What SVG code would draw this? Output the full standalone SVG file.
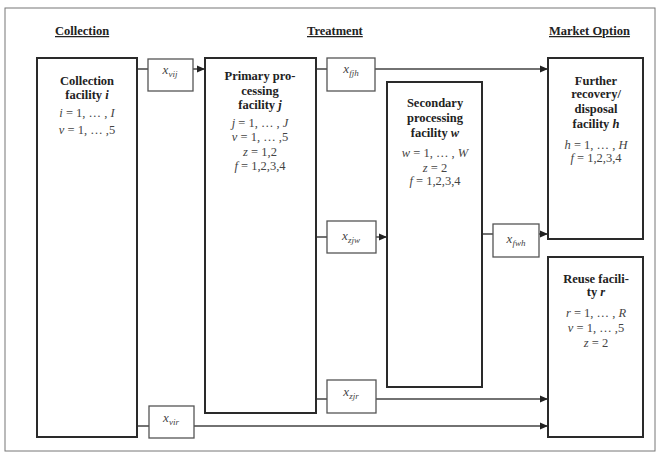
<svg xmlns="http://www.w3.org/2000/svg" width="660" height="455" viewBox="0 0 660 455">
<defs>
<marker id="arr" markerWidth="8" markerHeight="8" refX="7" refY="4" orient="auto" markerUnits="userSpaceOnUse">
<path d="M0,0.5 L8,4 L0,7.5 Z" fill="#222"/>
</marker>
<style>
.frame{fill:#fff;stroke:#777;stroke-width:1}
.node{fill:#fff;stroke:#2a2a2a;stroke-width:2}
.lbl{fill:#fff;stroke:#555;stroke-width:1.3}
.con{fill:none;stroke:#444;stroke-width:1.4}
text{font-family:"Liberation Serif","DejaVu Serif","Times New Roman",serif}
.hd{font-weight:bold;font-size:12.5px;fill:#222;text-decoration:underline}
.t{font-weight:bold;font-size:12.5px;fill:#222;text-anchor:middle}
.m{font-size:12.5px;fill:#444;text-anchor:middle}
.v{font-style:italic}
.x{font-style:italic;font-size:13px;fill:#444;text-anchor:middle}
.s{font-size:9px}
</style>
</defs>
<rect class="frame" x="5" y="8" width="650" height="443"/>
<text class="hd" x="55" y="35">Collection</text>
<text class="hd" x="307" y="35">Treatment</text>
<text class="hd" x="549" y="35">Market Option</text>

<g id="connectors">
<path class="con" d="M137,69 H148 M193,69 H204" marker-end="url(#arr)"/>
<path class="con" d="M316,69 H327 M375,69 H547" marker-end="url(#arr)"/>
<path class="con" d="M316,237 H327 M376,237 H386" marker-end="url(#arr)"/>
<path class="con" d="M482,234 H493 M539,234 H547" marker-end="url(#arr)"/>
<path class="con" d="M316,399 H327 M376,399 H547" marker-end="url(#arr)"/>
<path class="con" d="M137,426 H149 M194,426 H547" marker-end="url(#arr)"/>
</g>

<g id="collection">
<rect class="node" x="37" y="58" width="100" height="379"/>
<text class="t" x="87" y="85">Collection</text>
<text class="t" x="87" y="99">facility <tspan class="v">i</tspan></text>
<text class="m" x="87" y="117"><tspan class="v">i</tspan> = 1, … , <tspan class="v">I</tspan></text>
<text class="m" x="87" y="134"><tspan class="v">v</tspan> = 1, … ,5</text>
</g>

<g id="primary">
<rect class="node" x="205" y="58" width="111" height="355"/>
<text class="t" x="260" y="80">Primary pro-</text>
<text class="t" x="260" y="95">cessing</text>
<text class="t" x="260" y="109">facility <tspan class="v">j</tspan></text>
<text class="m" x="260" y="127"><tspan class="v">j</tspan> = 1, … , <tspan class="v">J</tspan></text>
<text class="m" x="260" y="141"><tspan class="v">v</tspan> = 1, … ,5</text>
<text class="m" x="260" y="156"><tspan class="v">z</tspan> = 1,2</text>
<text class="m" x="260" y="170"><tspan class="v">f</tspan> = 1,2,3,4</text>
</g>

<g id="secondary">
<rect class="node" x="387" y="82" width="95" height="305"/>
<text class="t" x="435" y="107">Secondary</text>
<text class="t" x="435" y="122">processing</text>
<text class="t" x="435" y="137">facility <tspan class="v">w</tspan></text>
<text class="m" x="435" y="157"><tspan class="v">w</tspan> = 1, … , <tspan class="v">W</tspan></text>
<text class="m" x="435" y="172"><tspan class="v">z</tspan> = 2</text>
<text class="m" x="435" y="185"><tspan class="v">f</tspan> = 1,2,3,4</text>
</g>

<g id="further">
<rect class="node" x="548" y="58" width="95" height="181"/>
<text class="t" x="596" y="85">Further</text>
<text class="t" x="596" y="98">recovery/</text>
<text class="t" x="596" y="113">disposal</text>
<text class="t" x="596" y="128">facility <tspan class="v">h</tspan></text>
<text class="m" x="596" y="149"><tspan class="v">h</tspan> = 1, … , <tspan class="v">H</tspan></text>
<text class="m" x="596" y="162"><tspan class="v">f</tspan> = 1,2,3,4</text>
</g>

<g id="reuse">
<rect class="node" x="548" y="257" width="95" height="180"/>
<text class="t" x="596" y="283">Reuse facili-</text>
<text class="t" x="596" y="296">ty <tspan class="v">r</tspan></text>
<text class="m" x="596" y="317"><tspan class="v">r</tspan> = 1, … , <tspan class="v">R</tspan></text>
<text class="m" x="596" y="332"><tspan class="v">v</tspan> = 1, … ,5</text>
<text class="m" x="596" y="347"><tspan class="v">z</tspan> = 2</text>
</g>

<g id="x_vij">
<rect class="lbl" x="148" y="59" width="45" height="32"/>
<text class="x" x="170" y="74">x<tspan class="s" dy="3">vij</tspan></text>
</g>
<g id="x_fjh">
<rect class="lbl" x="327" y="58" width="48" height="33"/>
<text class="x" x="351" y="73">x<tspan class="s" dy="3">fjh</tspan></text>
</g>
<g id="x_zjw">
<rect class="lbl" x="327" y="221" width="49" height="32"/>
<text class="x" x="351" y="240">x<tspan class="s" dy="3">zjw</tspan></text>
</g>
<g id="x_fwh">
<rect class="lbl" x="493" y="224" width="46" height="33"/>
<text class="x" x="516" y="243">x<tspan class="s" dy="3">fwh</tspan></text>
</g>
<g id="x_zjr">
<rect class="lbl" x="327" y="380" width="49" height="33"/>
<text class="x" x="351" y="396">x<tspan class="s" dy="3">zjr</tspan></text>
</g>
<g id="x_vir">
<rect class="lbl" x="149" y="406" width="45" height="32"/>
<text class="x" x="171" y="422">x<tspan class="s" dy="3">vir</tspan></text>
</g>
</svg>
